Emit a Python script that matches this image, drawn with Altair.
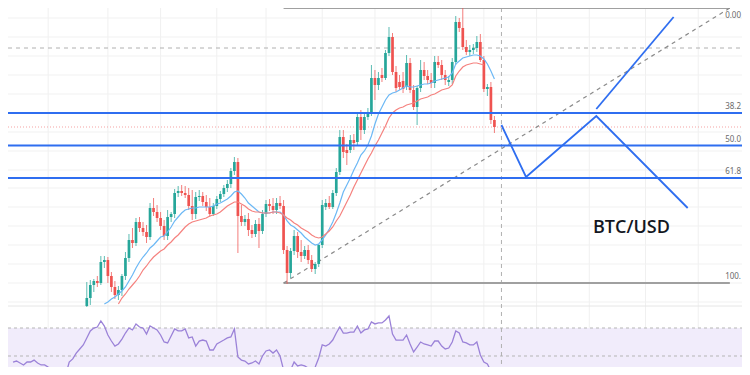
import altair as alt
import pandas as pd

# ---------------- data (BTC/USD daily) ----------------
candle_first, candle_last = "2021-07-26", "2021-11-19"
opens = [39200, 40000, 41300, 41700, 41500, 43600, 43800, 42200, 41100, 40300,
         40800, 42200, 44000, 45800, 45500, 47600, 47000, 46600, 46100, 49000,
         48600, 48000, 47200, 46200, 48100, 48400, 50500, 50700, 50500, 50300,
         49200, 48400, 50100, 50200, 49600, 49100, 48400, 49200, 49900, 50400,
         51000, 51400, 52700, 53600, 48200, 47600, 47900, 46800, 46400, 47400,
         46700, 48400, 49400, 49200, 48800, 49500, 49200, 44800, 42500, 44700,
         46200, 44600, 44200, 44800, 43800, 42900, 43400, 45300, 49100, 49500,
         49100, 50500, 52600, 56100, 54800, 54800, 55800, 55600, 58100, 56800,
         58100, 58500, 62000, 61300, 62300, 62000, 64500, 66100, 62600, 61600,
         61700, 61100, 63500, 60800, 59100, 61000, 62800, 62200, 61800, 61500,
         63600, 63300, 62300, 61600, 61800, 63600, 67600, 67000, 65100, 64600,
         64800, 65000, 65600, 63800, 60900, 61100, 57800]
highs = [41600, 41800, 41900, 42200, 44200, 44200, 44100, 42600, 41700, 41200,
         42400, 44600, 46400, 47000, 48000, 48100, 47600, 47300, 49500, 50000,
         49300, 48600, 47800, 48800, 48600, 50900, 51200, 51300, 51200, 51000,
         50800, 50600, 50800, 50600, 50300, 50000, 49500, 50200, 50700, 51300,
         51800, 53000, 54100, 54000, 49300, 48300, 48500, 47300, 47800, 48000,
         48800, 49800, 49900, 50000, 50000, 50200, 49800, 45200, 45000, 46800,
         46600, 45800, 45200, 45300, 44300, 43600, 45400, 49800, 49900, 50200,
         50800, 53000, 56800, 56800, 55400, 56300, 56400, 58600, 58800, 58600,
         59000, 63300, 62800, 62600, 63000, 64800, 67100, 66500, 63200, 62300,
         62600, 64300, 64000, 61300, 61200, 63800, 63600, 62800, 62500, 64200,
         64200, 63800, 62800, 62200, 64000, 68200, 68000, 69300, 65800, 65300,
         65400, 66200, 66400, 64200, 61400, 61600, 58200]
lows = [39100, 39300, 40600, 41100, 41300, 43000, 41500, 40600, 39900, 39800,
        40200, 41800, 43600, 45000, 45200, 46600, 46200, 45500, 45800, 48200,
        47600, 46800, 45800, 45800, 47600, 48000, 50100, 50200, 50000, 48800,
        47800, 47900, 49700, 49200, 48700, 48100, 48200, 48900, 49600, 50100,
        50600, 51000, 52300, 44500, 47200, 47200, 46200, 46000, 46100, 45000,
        46400, 48100, 48700, 48400, 48400, 48900, 44400, 41400, 42000, 44300,
        44000, 43600, 43900, 43400, 42600, 42400, 43100, 45000, 48800, 48900,
        48900, 50200, 52300, 54000, 53300, 54500, 54800, 55200, 55800, 56400,
        57800, 58200, 59800, 60800, 61600, 61800, 64200, 62300, 60600, 60800,
        60500, 60800, 60500, 58800, 57300, 60600, 61800, 61400, 61000, 61000,
        63000, 61800, 61300, 61200, 61400, 63300, 66600, 64800, 64300, 64200,
        64400, 64600, 63600, 60600, 60200, 57400, 56500]
closes = [40000, 41300, 41700, 41500, 43600, 43800, 42200, 41100, 40300, 40800,
          42200, 44000, 45800, 45500, 47600, 47000, 46600, 46100, 49000, 48600,
          48000, 47200, 46200, 48100, 48400, 50500, 50700, 50500, 50300, 49200,
          48400, 50100, 50200, 49600, 49100, 48400, 49200, 49900, 50400, 51000,
          51400, 52700, 53600, 48200, 47600, 47900, 46800, 46400, 47400, 46700,
          48400, 49400, 49200, 48800, 49500, 49200, 44800, 42500, 44700, 46200,
          44600, 44200, 44800, 43800, 42900, 43400, 45300, 49300, 49500, 49100,
          50500, 52600, 56100, 54600, 54500, 55800, 55500, 58100, 56800, 58100,
          58500, 62000, 61300, 62000, 62000, 64500, 66100, 62600, 61000, 61100,
          60900, 63500, 60800, 59100, 61000, 62800, 62200, 61800, 61500, 63600,
          63300, 62300, 61800, 61800, 63600, 67600, 67000, 65100, 64600, 64800,
          65000, 65600, 63800, 60900, 61100, 57800, 57100]

ema_fast_first = "2021-07-31"
ema_fast = [39400, 39600, 39900, 40100, 40400, 40700, 41100, 41700, 42300, 43000,
            43600, 44100, 44500, 45000, 45300, 45700, 46100, 46200, 46600, 47100,
            47700, 48100, 48500, 48800, 48900, 49000, 49000, 49100, 49100, 49100,
            49100, 49200, 49400, 49500, 49700, 49900, 50200, 50600, 50700, 50400,
            50000, 49500, 49200, 48900, 48600, 48500, 48500, 48500, 48600, 48600,
            48600, 48300, 47700, 47300, 47100, 46800, 46500, 46100, 45800, 45500,
            45300, 45400, 45800, 46300, 46900, 47600, 48500, 49500, 50600, 51300,
            52000, 52800, 53500, 54300, 54700, 55300, 56200, 57400, 58400, 59100,
            59800, 60300, 60500, 60600, 60800, 61000, 61200, 61100, 61100, 61200,
            61300, 61400, 61400, 61500, 61700, 61800, 61900, 62000, 62100, 62500,
            63400, 63700, 64000, 64100, 64200, 64300, 64300, 64200, 63900, 63400,
            62700, 61900]

ema_slow_first = "2021-08-04"
ema_slow = [39400, 40000, 40400, 40900, 41300, 41700, 42200, 42800, 43200, 43700,
            44100, 44400, 44700, 44900, 45300, 45600, 46000, 46300, 46700, 47100,
            47400, 47600, 47700, 47800, 47900, 48000, 48200, 48300, 48400, 48600,
            48900, 49200, 49400, 49600, 49600, 49400, 49200, 48900, 48700, 48600,
            48600, 48500, 48500, 48500, 48600, 48600, 48500, 48300, 48000, 47800,
            47500, 47300, 47000, 46800, 46600, 46300, 46100, 46000, 46100, 46400,
            46700, 47100, 47700, 48200, 48900, 49600, 50300, 51100, 51800, 52500,
            53200, 53900, 54500, 55200, 55800, 56500, 57200, 58000, 58500, 58800,
            59000, 59100, 59300, 59400, 59500, 59700, 59900, 60000, 60100, 60300,
            60400, 60600, 60800, 60900, 61000, 61300, 62200, 62700, 63100, 63300,
            63400, 63500, 63500, 63400, 63300]

rsi_first = "2021-07-05"
rsi = [45.7, 46.4, 45.0, 43.6, 45.7, 45.7, 47.1, 45.0, 43.6, 43.6,
       42.1, 40.7, 39.3, 40.7, 37.9, 36.4, 45.7, 47.9, 52.1, 55.0,
       57.9, 62.9, 67.9, 70.0, 70.7, 75.0, 71.4, 65.0, 60.7, 57.1,
       58.6, 62.1, 66.4, 70.0, 68.6, 72.9, 70.7, 70.0, 65.7, 71.4,
       70.0, 68.6, 65.0, 60.0, 59.3, 64.3, 69.3, 67.9, 67.9, 69.3,
       62.9, 63.6, 57.1, 60.7, 61.4, 60.7, 54.3, 54.3, 58.6, 60.0,
       61.4, 62.9, 63.6, 69.3, 49.3, 47.1, 46.4, 44.3, 45.0, 46.4,
       44.3, 50.0, 53.6, 54.3, 52.1, 54.3, 50.0, 40.0, 37.1, 40.0,
       45.7, 42.9, 43.6, 42.9, 41.4, 39.3, 42.1, 48.6, 57.9, 57.1,
       58.6, 61.4, 66.4, 70.7, 66.4, 66.4, 67.1, 67.1, 71.4, 66.4,
       68.6, 69.3, 74.3, 72.9, 73.6, 73.6, 75.7, 78.6, 65.7, 61.4,
       61.4, 61.4, 65.0, 58.6, 52.9, 56.4, 60.0, 58.6, 57.9, 57.1,
       60.7, 60.7, 57.1, 55.0, 55.7, 60.0, 67.9, 66.4, 60.0, 59.3,
       57.9, 57.9, 60.0, 50.7, 45.7, 44.3, 39.3, 37.9]

# Fibonacci retracement (swing low Sep 20 -> ATH)
fib_high, fib_low = 69000, 41500
fib_ratios = [0.0, 0.382, 0.5, 0.618, 1.0]
fib_labels = ["0.00", "38.2", "50.0", "61.8", "100."]
fib_start, fib_end = "2021-09-20", "2022-01-25"

# projected path (annotation)
zigzag_dates = ["2021-11-21", "2021-11-28", "2021-12-18", "2022-01-13"]
zigzag_prices = [57300, 52100, 58200, 49000]
bull_dates = ["2021-12-18", "2022-01-09"]
bull_prices = [58900, 68100]

crosshair_date = "2021-11-21"
crosshair_price = 65000

grid_dates = ["2021-07-15", "2021-08-01", "2021-08-16", "2021-09-01", "2021-09-15",
              "2021-10-01", "2021-10-16", "2021-11-01", "2021-11-16", "2021-12-01",
              "2021-12-16", "2022-01-01", "2022-01-16"]
grid_prices = [68000, 66100, 64200, 62300, 60400, 58500, 56600, 54700, 52800,
               51000, 49100, 47200, 45300, 43400, 41500, 39600]

title_text = "BTC/USD"
title_date, title_price = "2021-12-28", 47000

# ---------------- tables ----------------
def days(start, n):
    return pd.date_range(start, periods=n, freq="D").strftime("%Y-%m-%d").tolist()

candles = pd.DataFrame({"date": days(candle_first, len(opens)), "open": opens,
                        "high": highs, "low": lows, "close": closes})
fast_df = pd.DataFrame({"date": days(ema_fast_first, len(ema_fast)), "v": ema_fast})
slow_df = pd.DataFrame({"date": days(ema_slow_first, len(ema_slow)), "v": ema_slow})
rsi_df = pd.DataFrame({"date": days(rsi_first, len(rsi)), "v": rsi})
fib_df = pd.DataFrame({"ratio": fib_ratios, "label": fib_labels,
                       "price": [fib_high - r * (fib_high - fib_low) for r in fib_ratios],
                       "start": fib_start, "end": fib_end})
zig_df = pd.DataFrame({"date": zigzag_dates, "price": zigzag_prices, "o": range(4)})
bull_df = pd.DataFrame({"date": bull_dates, "price": bull_prices, "o": range(2)})
trend_df = pd.DataFrame({"date": [fib_start, fib_end], "price": [fib_low, fib_high]})

W, H = 734, 359
xs = alt.Scale(type="utc", domain=[alt.DateTime(year=2021, month=7, date=5, utc=True),
                                   alt.DateTime(year=2022, month=1, date=27, hours=0,
                                                minutes=50, utc=True)])
ps = alt.Scale(domain=[33100, 69000], nice=False, zero=False)
rs = alt.Scale(domain=[42.142857, 298.571429], nice=False, zero=False)

GREEN, RED = "#26a69a", "#ef5350"
BLUE = "#2f6ef0"

def X(f="date"):
    return alt.X(f + ":T", scale=xs, axis=None)

def P(f="price"):
    return alt.Y(f + ":Q", scale=ps, axis=None)

def R(f="v"):
    return alt.Y(f + ":Q", scale=rs, axis=None)

full_x = dict(x=alt.value(0), x2=alt.value(W))

vgrid = alt.Chart(pd.DataFrame({"date": grid_dates})).mark_rule(
    color="#f0f0f0", strokeWidth=1).encode(x=X(), y=alt.value(0), y2=alt.value(H))
hgrid = alt.Chart(pd.DataFrame({"price": grid_prices})).mark_rule(
    color="#f1f1f1", strokeWidth=1).encode(y=P(), **full_x)
sep = alt.Chart(pd.DataFrame({"price": [39200]})).mark_rule(
    color="#e6e6e6", strokeWidth=1).encode(y=P(), **full_x)

rsi_band = alt.Chart(pd.DataFrame({"a": [70], "b": [30]})).mark_rect(
    color="#f1ecfb", clip=True).encode(y=R("a"), y2=alt.Y2("b"), **full_x)
rsi_levels = alt.Chart(pd.DataFrame({"v": [70, 50]})).mark_rule(
    color="#b5b5b5", strokeDash=[3, 3], strokeWidth=1).encode(y=R(), **full_x)
rsi_line = alt.Chart(rsi_df).mark_line(color="#9b82d8", strokeWidth=1.3).encode(
    x=X(), y=R())

vcross = alt.Chart(pd.DataFrame({"date": [crosshair_date]})).mark_rule(
    color="#b0b0b0", strokeDash=[4, 4], strokeWidth=1).encode(
    x=X(), y=alt.value(0), y2=alt.value(H))
hcross = alt.Chart(pd.DataFrame({"price": [crosshair_price]})).mark_rule(
    color="#b0b0b0", strokeDash=[4, 4], strokeWidth=1).encode(y=P(), **full_x)
last_line = alt.Chart(pd.DataFrame({"price": [closes[-1]]})).mark_rule(
    color="#f5a3a3", strokeDash=[1, 2], strokeWidth=1).encode(y=P(), **full_x)

fib_gray = alt.Chart(fib_df).transform_filter(
    "datum.ratio == 0 || datum.ratio == 1").mark_rule(
    color="#a0a0a0", strokeWidth=2).encode(x=X("start"), x2=alt.X2("end:T"), y=P())
fib_blue = alt.Chart(fib_df).transform_filter(
    "datum.ratio > 0 && datum.ratio < 1").mark_rule(
    color=BLUE, strokeWidth=2).encode(y=P(), **full_x)
fib_text = alt.Chart(fib_df).transform_filter("datum.ratio > 0").mark_text(
    align="right", baseline="bottom", dy=-2, fontSize=8, color="#6b6b6b",
    font="Noto Sans").encode(x=alt.value(W - 1), y=P(), text="label:N")
fib_top_text = alt.Chart(fib_df).transform_filter("datum.ratio == 0").mark_text(
    align="right", baseline="top", dy=4, fontSize=8, color="#6b6b6b",
    font="Noto Sans").encode(x=alt.value(W - 1), y=P(), text="label:N")

trend = alt.Chart(trend_df).mark_line(
    color="#8a8a8a", strokeDash=[4, 4], strokeWidth=1.2).encode(x=X(), y=P())

color_rule = alt.condition("datum.close >= datum.open", alt.value(GREEN), alt.value(RED))
wicks = alt.Chart(candles).mark_rule(strokeWidth=1, opacity=0.75).encode(
    x=X(), y=P("low"), y2=alt.Y2("high"), color=color_rule)
bodies = alt.Chart(candles).mark_bar(size=2.7).encode(
    x=X(), y=P("open"), y2=alt.Y2("close"), color=color_rule)

fast_line = alt.Chart(fast_df).mark_line(color="#6cb8f5", strokeWidth=1.2).encode(
    x=X(), y=P("v"))
slow_line = alt.Chart(slow_df).mark_line(color="#f5827f", strokeWidth=1.2).encode(
    x=X(), y=P("v"))

zig = alt.Chart(zig_df).mark_line(color=BLUE, strokeWidth=1.8).encode(
    x=X(), y=P(), order="o:Q")
bull = alt.Chart(bull_df).mark_line(color=BLUE, strokeWidth=1.8).encode(
    x=X(), y=P(), order="o:Q")

label = alt.Chart(pd.DataFrame({"date": [title_date], "price": [title_price],
                                "t": [title_text]})).mark_text(
    fontSize=18, fontWeight=600, font="Open Sans", color="#131722",
    baseline="middle", align="center").encode(x=X(), y=P(), text="t:N")

chart = alt.layer(
    vgrid, hgrid, sep, rsi_band, rsi_levels, rsi_line, vcross, hcross, last_line,
    fib_gray, trend, wicks, bodies, fast_line, slow_line, fib_blue, fib_text,
    fib_top_text, zig, bull, label,
).resolve_scale(y="independent").properties(
    width=W, height=H, padding=0, autosize=alt.AutoSizeParams(type="none"),
    background="white",
).configure_view(stroke=None)

chart.save("out.html", embed_options={"renderer": "svg", "actions": False})
